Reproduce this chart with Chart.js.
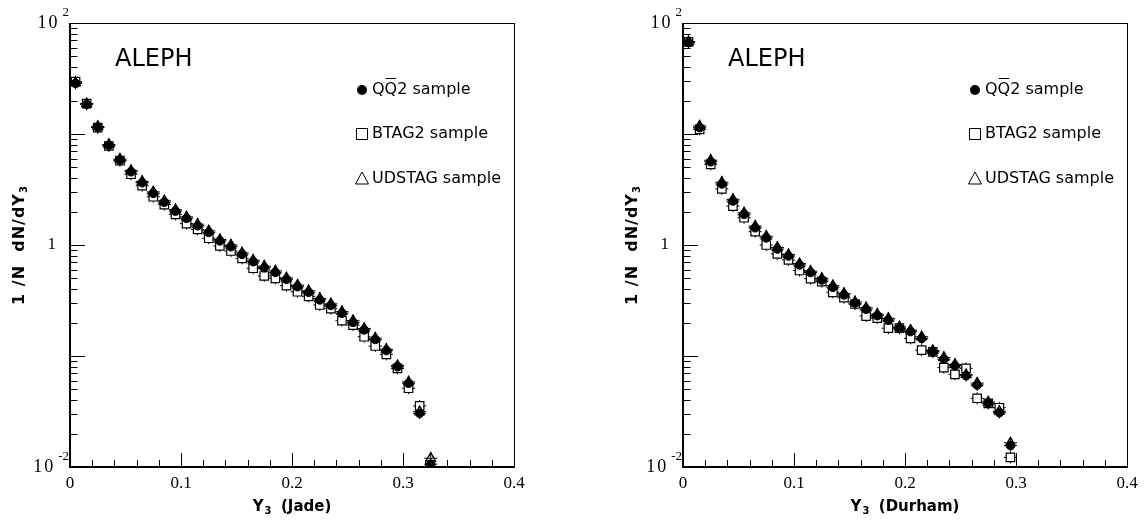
<!DOCTYPE html>
<html>
<head>
<meta charset="utf-8">
<script src="https://cdn.jsdelivr.net/npm/chart.js@4.4.1/dist/chart.umd.min.js"></script>
<style>
  body { margin: 0; background: #fff; width: 1145px; height: 523px; overflow: hidden; position: relative; }
  canvas { position: absolute; top: 0; }
  #jade { left: 0; }
  #durham { left: 572px; }
</style>
</head>
<body>
<canvas id="jade" width="572" height="523"></canvas>
<canvas id="durham" width="573" height="523"></canvas>
<script>
// bin centres, Y3 (bin width 0.01)
const jadeBins = [0.005, 0.015, 0.025, 0.035, 0.045, 0.055, 0.065, 0.075, 0.085, 0.095,
  0.105, 0.115, 0.125, 0.135, 0.145, 0.155, 0.165, 0.175, 0.185, 0.195,
  0.205, 0.215, 0.225, 0.235, 0.245, 0.255, 0.265, 0.275, 0.285, 0.295,
  0.305, 0.315, 0.325];
const durhamBins = [0.005, 0.015, 0.025, 0.035, 0.045, 0.055, 0.065, 0.075, 0.085, 0.095,
  0.105, 0.115, 0.125, 0.135, 0.145, 0.155, 0.165, 0.175, 0.185, 0.195,
  0.205, 0.215, 0.225, 0.235, 0.245, 0.255, 0.265, 0.275, 0.285, 0.295];

// 1/N dN/dY3, Jade
const jadeQQ2 = [28.6, 18.5, 11.5, 7.91, 5.83, 4.57, 3.64, 2.92, 2.43, 2.02,
  1.74, 1.49, 1.30, 1.09, 0.966, 0.824, 0.708, 0.624, 0.567, 0.491,
  0.421, 0.375, 0.320, 0.286, 0.243, 0.201, 0.172, 0.141, 0.112, 0.080,
  0.0568, 0.0305, 0.0106];
const jadeBtag2 = [29.6, 18.8, 11.4, 7.8, 5.75, 4.34, 3.42, 2.72, 2.31, 1.89,
  1.56, 1.38, 1.15, 0.98, 0.883, 0.758, 0.617, 0.526, 0.501, 0.430,
  0.379, 0.345, 0.288, 0.267, 0.208, 0.190, 0.149, 0.123, 0.1035, 0.0774,
  0.0512, 0.0355, null];
const jadeUdstag = [28.9, 18.7, 11.7, 8.05, 5.95, 4.68, 3.74, 3.01, 2.50, 2.08,
  1.79, 1.54, 1.34, 1.12, 1.00, 0.85, 0.73, 0.645, 0.585, 0.505,
  0.435, 0.387, 0.330, 0.295, 0.251, 0.208, 0.177, 0.145, 0.115, 0.082,
  0.0585, 0.0315, 0.0120];

// 1/N dN/dY3, Durham
const durhamQQ2 = [66.6, 11.4, 5.62, 3.55, 2.49, 1.89, 1.43, 1.16, 0.92, 0.796,
  0.661, 0.565, 0.484, 0.416, 0.355, 0.299, 0.264, 0.231, 0.211, 0.178,
  0.166, 0.144, 0.109, 0.0934, 0.0818, 0.0665, 0.0548, 0.0375, 0.0309, 0.0156];
const durhamBtag2 = [67.5, 11.0, 5.33, 3.20, 2.24, 1.76, 1.32, 1.00, 0.83, 0.733,
  0.589, 0.497, 0.467, 0.375, 0.335, 0.294, 0.229, 0.219, 0.178, 0.178,
  0.144, 0.113, 0.109, 0.0785, 0.0684, 0.0775, 0.0416, 0.0375, 0.0342, 0.0122];
const durhamUdstag = [68.0, 11.8, 5.80, 3.68, 2.58, 1.95, 1.48, 1.20, 0.95, 0.82,
  0.68, 0.58, 0.50, 0.43, 0.366, 0.308, 0.272, 0.238, 0.218, 0.183,
  0.171, 0.149, 0.112, 0.097, 0.084, 0.068, 0.057, 0.0385, 0.0318, 0.0165];

const xTicks = [0, 0.1, 0.2, 0.3, 0.4];
const xTickLabels = ['0', '0.1', '0.2', '0.3', '0.4'];
const yLabelValues = [100, 1, 0.01];
const yLabelExp = ['2', '', '-2'];
const legendLabels = ['QQ2 sample', 'BTAG2 sample', 'UDSTAG sample'];
const binHalf = 0.005;

function pts(xs, ys) {
  return xs.map((x, i) => ({ x: x, y: ys[i] })).filter(p => p.y != null);
}

const pawFrame = {
  id: 'pawFrame',
  beforeDatasetsDraw(chart) {
    const ctx = chart.ctx, xs = chart.scales.x;
    const a = chart.chartArea;
    ctx.save();
    ctx.beginPath();
    ctx.rect(a.left, a.top, a.right - a.left, a.bottom - a.top);
    ctx.clip();
    ctx.strokeStyle = '#000';
    ctx.lineWidth = 1;
    chart.data.datasets.forEach((ds, i) => {
      chart.getDatasetMeta(i).data.forEach((el, j) => {
        const p = ds.data[j];
        const l = xs.getPixelForValue(p.x - binHalf);
        const r = xs.getPixelForValue(p.x + binHalf);
        ctx.beginPath();
        ctx.moveTo(l - 1, el.y); ctx.lineTo(r + 1, el.y);
        ctx.moveTo(el.x, el.y - 6); ctx.lineTo(el.x, el.y + 6);
        ctx.stroke();
      });
    });
    ctx.restore();
  },
  afterDraw(chart, args, opts) {
    const ctx = chart.ctx, a = chart.chartArea;
    const xs = chart.scales.x, ys = chart.scales.y;
    ctx.save();
    ctx.strokeStyle = '#000';
    // frame
    ctx.lineWidth = 1;
    ctx.strokeRect(a.left + 0.5, a.top + 0.5, a.right - a.left, a.bottom - a.top);
    ctx.lineWidth = 2;
    ctx.beginPath();
    ctx.moveTo(a.left, a.top); ctx.lineTo(a.left, a.bottom); ctx.lineTo(a.right, a.bottom);
    ctx.stroke();

    // x ticks (inward)
    ctx.lineWidth = 1;
    ctx.beginPath();
    for (let k = 0; k <= 20; k++) {
      const px = Math.round(xs.getPixelForValue(k * 0.02)) + 0.5;
      const len = k % 5 === 0 ? 14 : 7;
      ctx.moveTo(px, a.bottom); ctx.lineTo(px, a.bottom - len);
    }
    // y ticks (inward)
    for (let e = -2; e <= 1; e++) {
      for (let m = 1; m <= 9; m++) {
        const py = Math.round(ys.getPixelForValue(m * Math.pow(10, e))) + 0.5;
        const len = m === 1 ? 15 : 7.5;
        ctx.moveTo(a.left, py); ctx.lineTo(a.left + len, py);
      }
    }
    ctx.stroke();

    // x tick labels
    ctx.fillStyle = '#000';
    ctx.font = '17px "Liberation Serif", serif';
    ctx.textAlign = 'center';
    ctx.textBaseline = 'middle';
    xTicks.forEach((v, i) => {
      ctx.fillText(xTickLabels[i], xs.getPixelForValue(v), a.bottom + 17);
    });

    // y tick labels (10 with raised exponent)
    yLabelValues.forEach((v, i) => {
      const py = ys.getPixelForValue(v);
      const exp = yLabelExp[i];
      if (!exp) {
        ctx.font = '17px "Liberation Serif", serif';
        ctx.textAlign = 'right';
        ctx.fillText('1', a.left - 14, py);
        return;
      }
      ctx.font = '13px "Liberation Serif", serif';
      ctx.textAlign = 'right';
      const ew = ctx.measureText(exp).width;
      ctx.fillText(exp, a.left - 1, py - 10);
      ctx.font = '18px "Liberation Serif", serif';
      ctx.letterSpacing = '2px';
      ctx.fillText('10', a.left - ew - 4, py);
      ctx.letterSpacing = '0px';
    });

    // y axis title
    ctx.save();
    ctx.translate(a.left - 50, (a.top + a.bottom) / 2);
    ctx.rotate(-Math.PI / 2);
    const t1 = '1 /N  dN/dY';
    ctx.letterSpacing = '1px';
    ctx.font = 'bold 16px "DejaVu Sans", sans-serif';
    const w1 = ctx.measureText(t1).width;
    ctx.font = 'bold 10px "DejaVu Sans", sans-serif';
    const w2 = ctx.measureText('3').width;
    const start = -(w1 + w2) / 2;
    ctx.textAlign = 'left';
    ctx.font = 'bold 16px "DejaVu Sans", sans-serif';
    ctx.fillText(t1, start, 0);
    ctx.font = 'bold 10px "DejaVu Sans", sans-serif';
    ctx.fillText('3', start + w1, 4);
    ctx.letterSpacing = '0px';
    ctx.restore();

    // x axis title
    const xt = opts.xTitle;
    ctx.font = 'bold 15px "DejaVu Sans", sans-serif';
    const wy = ctx.measureText('Y').width;
    const wt = ctx.measureText(xt).width;
    ctx.font = 'bold 10px "DejaVu Sans", sans-serif';
    const w3 = ctx.measureText('3').width;
    const total = wy + w3 + wt;
    let sx = (a.left + a.right) / 2 - total / 2;
    ctx.textAlign = 'left';
    ctx.font = 'bold 15px "DejaVu Sans", sans-serif';
    ctx.fillText('Y', sx, 507);
    ctx.font = 'bold 10px "DejaVu Sans", sans-serif';
    ctx.fillText('3', sx + wy + 1, 511);
    ctx.font = 'bold 15px "DejaVu Sans", sans-serif';
    ctx.fillText(xt, sx + wy + w3, 507);

    // ALEPH
    ctx.font = '24px "DejaVu Sans", sans-serif';
    ctx.textAlign = 'left';
    ctx.fillText('ALEPH', a.left + 45, 60);

    // legend
    const lx = a.left + 292;
    const rows = [90, 134, 179];
    ctx.lineWidth = 1;
    ctx.beginPath();
    ctx.arc(lx, rows[0], 5, 0, Math.PI * 2);
    ctx.fill();
    ctx.strokeRect(lx - 5.5, rows[1] - 5.5, 11, 11);
    ctx.beginPath();
    ctx.moveTo(lx, rows[2] - 7); ctx.lineTo(lx + 6.5, rows[2] + 5); ctx.lineTo(lx - 6.5, rows[2] + 5);
    ctx.closePath();
    ctx.stroke();
    ctx.font = '16px "DejaVu Sans", sans-serif';
    const tx = lx + 10;
    const qw = ctx.measureText('Q').width;
    ctx.fillText('Q', tx, rows[0]);
    ctx.fillText('Q', tx + qw, rows[0]);
    ctx.fillText(legendLabels[0].slice(2), tx + 2 * qw, rows[0]);
    ctx.beginPath();
    ctx.moveTo(tx + qw + 1, rows[0] - 11.5); ctx.lineTo(tx + 2 * qw - 1, rows[0] - 11.5);
    ctx.stroke();
    ctx.fillText(legendLabels[1], tx, rows[1]);
    ctx.fillText(legendLabels[2], tx, rows[2]);
    ctx.restore();
  }
};

function makeChart(id, pad, bins, qq, btag, uds, xTitle) {
  return new Chart(document.getElementById(id), {
    type: 'scatter',
    data: {
      datasets: [
        {
          label: 'BTAG2', data: pts(bins, btag), order: 3,
          pointStyle: 'rect', pointRadius: 6, borderWidth: 1.2,
          borderColor: '#000', backgroundColor: '#fff'
        },
        {
          label: 'QQ2', data: pts(bins, qq), order: 2,
          pointStyle: 'circle', pointRadius: 4.3, borderWidth: 1,
          borderColor: '#000', backgroundColor: '#000'
        },
        {
          label: 'UDSTAG', data: pts(bins, uds), order: 1,
          pointStyle: 'triangle', pointRadius: 5.5, borderWidth: 1.4,
          borderColor: '#000', backgroundColor: 'rgba(0,0,0,0)'
        }
      ]
    },
    options: {
      responsive: false,
      animation: false,
      layout: { padding: pad },
      scales: {
        x: { type: 'linear', min: 0, max: 0.4, display: false },
        y: { type: 'logarithmic', min: 0.01, max: 100, display: false }
      },
      plugins: {
        legend: { display: false },
        tooltip: { enabled: false },
        pawFrame: { xTitle: xTitle }
      }
    },
    plugins: [pawFrame]
  });
}

makeChart('jade', { left: 70, right: 58, top: 23, bottom: 56 },
  jadeBins, jadeQQ2, jadeBtag2, jadeUdstag, '  (Jade)');
makeChart('durham', { left: 111, right: 18, top: 23, bottom: 56 },
  durhamBins, durhamQQ2, durhamBtag2, durhamUdstag, '  (Durham)');
</script>
</body>
</html>
